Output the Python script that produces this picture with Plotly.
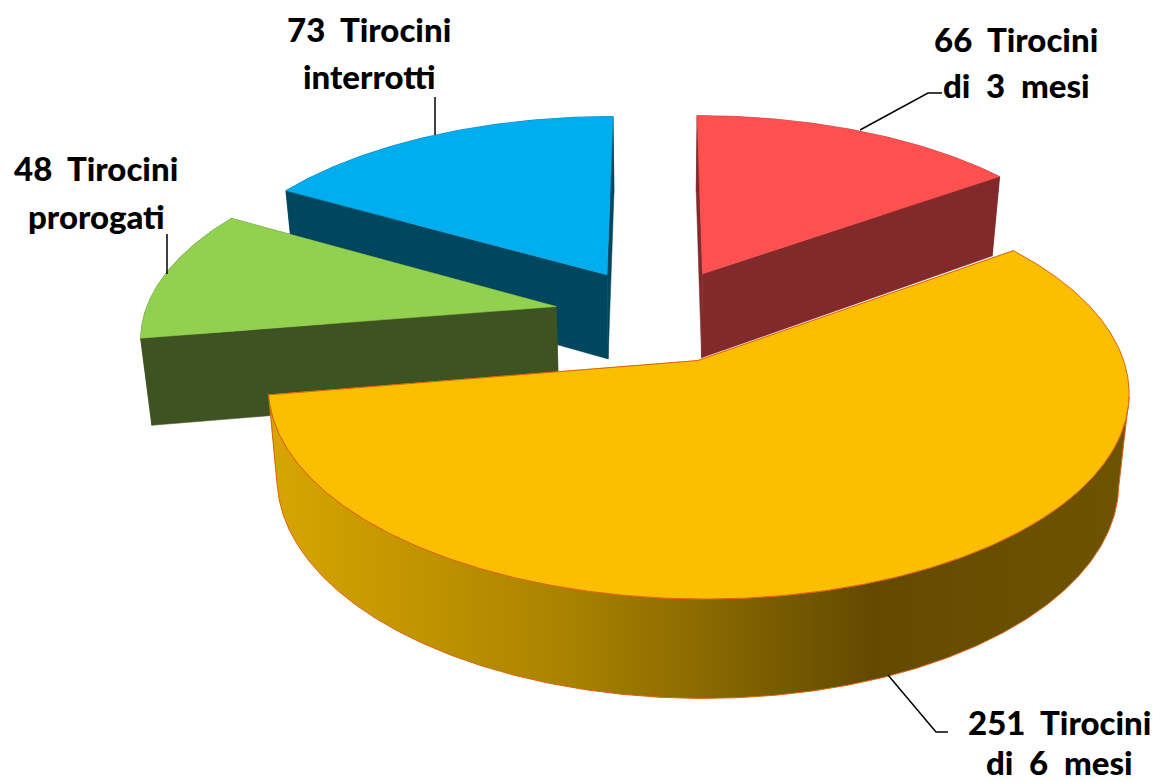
import math
import numpy as np
import plotly.graph_objects as go

# ---- data -------------------------------------------------------------
counts = [66, 251, 48, 73]
label_top = ["66 Tirocini", "251 Tirocini", "48 Tirocini", "73 Tirocini"]
label_bottom = ["di 3 mesi", "di 6 mesi", "prorogati", "interrotti"]
top_colors = ["#FF5050", "#FCBE00", "#92D050", "#00AEEF"]
side_colors = ["#822A2B", "#C89A00", "#3E5322", "#00465F"]

# ---- projection of the tilted 3D pie onto the page ----------------------
EXPLODE = 0.25
K = 0.14
W, H = 1157, 782
TOP = dict(u0=657, f=412, v0=315, g=191)
BOT = dict(u0=657, f=403, v0=401, g=200)
WALL_START = 100  # angle of the right-hand silhouette of the front wall


def project(x, y, plane):
    w = 1 + K * y
    return plane["u0"] + plane["f"] * x / w, plane["v0"] - plane["g"] * y / w


total = sum(counts)
fig = go.Figure()


def poly(xs, ys, color, line=None, gradient=None):
    kw = dict(
        x=list(xs), y=list(ys), mode="lines", fill="toself",
        line=dict(color=line or color, width=1 if line else 0.5),
        hoverinfo="skip", showlegend=False,
    )
    if gradient:
        kw["fillgradient"] = dict(type="horizontal", colorscale=gradient)
    else:
        kw["fillcolor"] = color
    fig.add_trace(go.Scatter(**kw))


def rim(a0, a1, ox, oy, plane):
    t = np.radians(np.linspace(a0, a1, max(int(abs(a1 - a0)) * 2, 2) + 1))
    return project(ox + np.sin(t), oy + np.cos(t), plane)


edges = np.cumsum([0] + counts) / total * 360
WALL = [[0, "#D8A600"], [0.35, "#A98200"], [0.70, "#634A00"], [1, "#6E5400"]]
# back pieces first so the big front slice overlaps them
for i in [0, 3, 2, 1]:
    a0, a1 = edges[i], edges[i + 1]
    mid = math.radians((a0 + a1) / 2)
    ox, oy = EXPLODE * math.sin(mid), EXPLODE * math.cos(mid)
    ax_t, ay_t = project(ox, oy, TOP)
    ax_b, ay_b = project(ox, oy, BOT)
    line = "#E2620E" if i == 1 else None
    for ang in (a0, a1):
        ex, ey = ox + math.sin(math.radians(ang)), oy + math.cos(math.radians(ang))
        tx, ty = project(ex, ey, TOP)
        bx, by = project(ex, ey, BOT)
        poly([ax_t, tx, bx, ax_b, ax_t], [ay_t, ty, by, ay_b, ay_t], side_colors[i])
    wall_a0 = max(a0, WALL_START) if i == 1 else a0
    ut, vt = rim(wall_a0, a1, ox, oy, TOP)
    ub, vb = rim(wall_a0, a1, ox, oy, BOT)
    wall_x = np.concatenate([ut, ub[::-1], ut[:1]])
    wall_y = np.concatenate([vt, vb[::-1], vt[:1]])
    if i == 1:
        poly(wall_x, wall_y, side_colors[i], line=line, gradient=WALL)
    else:
        poly(wall_x, wall_y, side_colors[i])
    ut, vt = rim(a0, a1, ox, oy, TOP)
    poly(np.concatenate([[ax_t], ut, [ax_t]]), np.concatenate([[ay_t], vt, [ay_t]]),
         top_colors[i], line=line)

# ---- leader lines -------------------------------------------------------
leaders = [
    [(860, 130), (928, 93), (942, 93)],
    [(888, 675), (936, 732), (948, 732)],
    [(167, 274), (167, 234)],
    [(435, 135), (435, 97)],
]
for pts in leaders:
    fig.add_trace(go.Scatter(x=[p[0] for p in pts], y=[p[1] for p in pts], mode="lines",
                             line=dict(color="black", width=1.5),
                             hoverinfo="skip", showlegend=False))

# ---- labels -------------------------------------------------------------
label_pos = [(1016, 39, 85), (1059, 722, 762), (96, 168, 216), (369, 29, 76)]
FONT = dict(family="Lato, 'Open Sans', sans-serif", size=33, color="black", weight=900)
for i, (cx, y1, y2) in enumerate(label_pos):
    for txt, y in ((label_top[i], y1), (label_bottom[i], y2)):
        fig.add_annotation(x=cx, y=y, text=txt.replace(" ", "\u00a0\u00a0"), showarrow=False,
                           xanchor="center", yanchor="middle", font=FONT)

fig.update_layout(
    width=W, height=H, margin=dict(l=0, r=0, t=0, b=0),
    paper_bgcolor="white", plot_bgcolor="white", showlegend=False,
    xaxis=dict(range=[0, W], visible=False, fixedrange=True),
    yaxis=dict(range=[H, 0], visible=False, fixedrange=True),
)
fig.write_html(
    "out.html",
    config=dict(displayModeBar=False),
    post_script="document.body.style.margin='0';document.documentElement.style.overflow='hidden';",
)
